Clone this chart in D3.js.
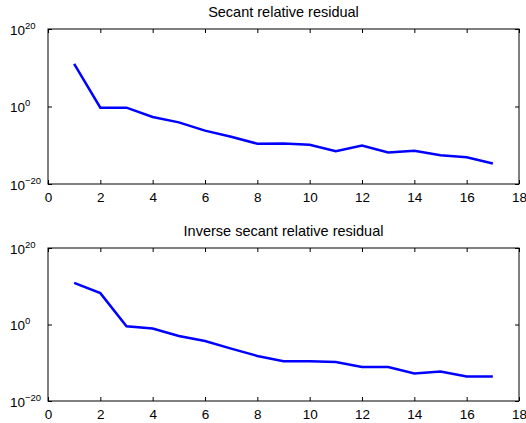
<!DOCTYPE html>
<html>
<head>
<meta charset="utf-8">
<script src="https://cdn.jsdelivr.net/npm/d3@7"></script>
<style>
  body { margin: 0; background: #fff; }
  text { font-family: "Liberation Sans", Arial, sans-serif; fill: #000; }
</style>
</head>
<body>
<script>
const w = 526
const h = 423

// iterations
const iters = [1, 2, 3, 4, 5, 6, 7, 8, 9, 10, 11, 12, 13, 14, 15, 16, 17]
// relative residuals
const secantRes = [1e11, 5e-1, 5e-1, 2e-3, 8e-5, 6e-7, 1.6e-8, 2.5e-10, 3e-10, 1.3e-10, 3e-12, 8e-11, 1.3e-12, 4e-12, 2.5e-13, 8e-14, 2e-15]
const invSecantRes = [8e10, 1.6e8, 3.5e-1, 9e-2, 1e-3, 5e-5, 5e-7, 6e-9, 2.5e-10, 2.5e-10, 1.6e-10, 8e-12, 8e-12, 1.6e-13, 5e-13, 2.5e-14, 2.5e-14]

const titles = ["Secant relative residual", "Inverse secant relative residual"]
const xTicks = [0, 2, 4, 6, 8, 10, 12, 14, 16, 18]
const yTicks = [1e-20, 1e0, 1e20]

let svg = d3.select("body").append("svg").attr("width", w).attr("height", h)

function panel(top, bottom, title, values) {
    let left = 48, right = 519
    let x = d3.scaleLinear().domain([0, 18]).range([left, right])
    let y = d3.scaleLog().domain([1e-20, 1e20]).range([bottom, top])
    let g = svg.append("g")

    // inward ticks, bottom + top
    g.append("g").attr("transform", "translate(0," + bottom + ")")
        .call(d3.axisBottom(x).tickValues(xTicks).tickSizeInner(-4).tickSizeOuter(0).tickPadding(8))
    g.append("g").attr("transform", "translate(0," + top + ")")
        .call(d3.axisTop(x).tickValues(xTicks).tickSizeInner(-4).tickSizeOuter(0).tickFormat(""))
    g.append("g").attr("transform", "translate(" + left + ",0)")
        .call(d3.axisLeft(y).tickValues(yTicks).tickSizeInner(-4).tickSizeOuter(0).tickFormat(""))
    g.append("g").attr("transform", "translate(" + right + ",0)")
        .call(d3.axisRight(y).tickValues(yTicks).tickSizeInner(-4).tickSizeOuter(0).tickFormat(""))

    g.selectAll(".domain").remove()
    g.selectAll(".tick line").attr("stroke", "#000")
    g.selectAll(".tick text").attr("font-size", 13.5).attr("font-family", "Liberation Sans, Arial, sans-serif").attr("fill", "#000")

    // box
    g.append("rect").attr("x", left).attr("y", top).attr("width", right - left).attr("height", bottom - top)
        .attr("fill", "none").attr("stroke", "#000").attr("stroke-width", 1)

    // y labels 10^k
    yTicks.forEach(v => {
        let e = Math.round(Math.log10(v))
        let t = g.append("text").attr("x", 10).attr("y", y(v) + 5.5).attr("font-size", 13.5)
        t.append("tspan").text("10")
        t.append("tspan").attr("dy", -6).attr("font-size", 9.5).text(e < 0 ? "\u2212" + (-e) : e)
    })

    g.append("text").attr("x", (left + right) / 2).attr("y", top - 12)
        .attr("text-anchor", "middle").attr("font-size", 14.5).text(title)

    let line = d3.line().x((d, i) => x(iters[i])).y(d => y(d))
    g.append("path").datum(values).attr("d", line)
        .attr("fill", "none").attr("stroke", "#0000ff").attr("stroke-width", 2.5)
}

panel(29, 184, titles[0], secantRes)
panel(248, 401, titles[1], invSecantRes)
</script>
</body>
</html>
